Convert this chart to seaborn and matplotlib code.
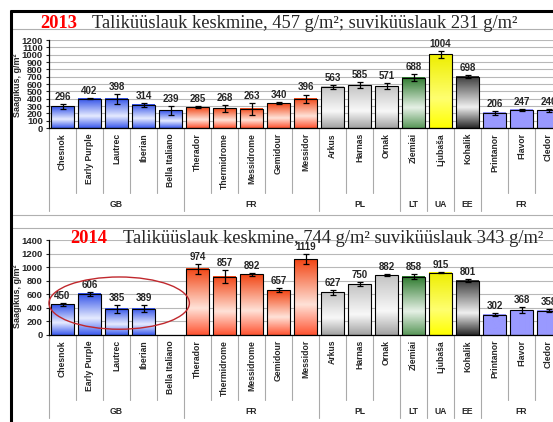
import numpy as np
import pandas as pd
import matplotlib
matplotlib.use("Agg")
import matplotlib.pyplot as plt
import seaborn as sns
from matplotlib.colors import LinearSegmentedColormap
from matplotlib.lines import Line2D
from matplotlib.patches import Ellipse
from matplotlib.transforms import blended_transform_factory

# Andmed
varieties = ["Chesnok", "Early Purple", "Lautrec", "Iberian", "Bella Italiano",
             "Therador", "Thermidrome", "Messidrome", "Gemidour", "Messidor",
             "Arkus", "Harnas", "Ornak", "Ziemiai", "Ljubaša", "Kohalik",
             "Printanor", "Flavor", "Cledor"]
countries = ["GB", "FR", "PL", "LT", "UA", "EE", "FR"]
group_sizes = [5, 5, 3, 1, 1, 1, 3]

yield_2013 = [296, 402, 398, 314, 239, 285, 268, 263, 340, 396,
              563, 585, 571, 688, 1004, 698, 206, 247, 240]
err_2013 = [35, 10, 68, 30, 60, 15, 45, 80, 15, 60,
            25, 45, 45, 50, 45, 20, 30, 10, 20]
yield_2014 = [450, 606, 385, 389, np.nan, 974, 857, 892, 657, 1119,
              627, 750, 882, 858, 915, 801, 302, 368, 358]
err_2014 = [20, 25, 55, 50, np.nan, 70, 95, 17, 30, 80,
            37, 30, 10, 40, 8, 25, 17, 45, 20]

# Tulpade gradient (ülemine, keskmine, alumine) riigirühmade kaupa
group_grad = [("#3050E8", "#E6EBFF", "#3D5CEE"),
              ("#F24514", "#FFE2D8", "#FF5533"),
              ("#C4C4C4", "#F8F8F8", "#A2A2A2"),
              ("#2E7A2E", "#E6F1E6", "#5A985A"),
              ("#EEEE00", "#FFFF70", "#FFFF00"),
              ("#3C3C3C", "#F0F0F0", "#2A2A2A"),
              ("#9999FF", "#9999FF", "#9999FF")]
bar_grad = [g for g, n in zip(group_grad, group_sizes) for _ in range(n)]

W, H = 553, 422


def fx(x):
    return x / W


def fy(y):
    return 1 - y / H


sns.set_style("ticks")
plt.rcParams["font.family"] = ["Liberation Sans", "DejaVu Sans"]

fig = plt.figure(figsize=(W / 100, H / 100), dpi=100)
n = len(varieties)
ax_left, ax_w = fx(49), (n * 27) / W


def draw_panel(ax, values, errors, ymax, step, lab_y, short_y, long_y, grp_y, axis_y):
    df = pd.DataFrame({"sort": varieties, "saak": values})
    sns.barplot(data=df, x="sort", y="saak", hue="sort", order=varieties,
                hue_order=varieties, palette=[g[0] for g in bar_grad],
                saturation=1, width=0.85, errorbar=None, legend=False, ax=ax)
    for p in list(ax.patches):
        h = p.get_height()
        if not np.isfinite(h) or h == 0:
            continue
        x0, w = p.get_x(), p.get_width()
        i = int(round(x0 + w / 2))
        top, mid, bot = bar_grad[i]
        cmap = LinearSegmentedColormap.from_list("g", [(0, bot), (0.4, mid), (1, top)])
        ax.imshow(np.linspace(0, 1, 100).reshape(-1, 1), extent=(x0, x0 + w, 0, h),
                  origin="lower", aspect="auto", cmap=cmap, zorder=1.5)
        p.set_facecolor("none")
        p.set_edgecolor("black")
        p.set_linewidth(0.8)
        p.set_zorder(2)

    x = np.arange(n)
    ax.errorbar(x, values, yerr=errors, fmt="none", ecolor="black",
                elinewidth=0.9, capsize=2, capthick=0.9, zorder=3)
    for i, (v, e) in enumerate(zip(values, errors)):
        if np.isfinite(v):
            ax.annotate(f"{v:.0f}", (i, v + e), xytext=(0, 1.5), textcoords="offset points",
                        ha="center", va="bottom", fontsize=7, fontweight="bold")

    ax.set_xlim(-0.5, n - 0.5)
    ax.set_ylim(0, ymax)
    ax.set_yticks(np.arange(0, ymax + 1, step))
    ax.tick_params(axis="y", labelsize=6.8, length=2.5, width=0.8, pad=2)
    for t in ax.get_yticklabels():
        t.set_fontweight("bold")
    ax.set_xticks([])
    ax.set_xlabel("")
    ax.set_ylabel("")
    ax.yaxis.grid(True, color="#B8B8B8", lw=0.8)
    ax.set_axisbelow(True)
    for s in ["top", "right"]:
        ax.spines[s].set_visible(False)
    for s in ["left", "bottom"]:
        ax.spines[s].set_color("black")
        ax.spines[s].set_linewidth(0.9)

    tr = blended_transform_factory(ax.transData, fig.transFigure)
    for i, name in enumerate(varieties):
        ax.text(i, fy(lab_y), name, rotation=90, ha="center", va="top",
                fontsize=6.2, fontweight="bold", transform=tr, clip_on=False)
    bounds = np.cumsum([0] + group_sizes) - 0.5
    for b in np.arange(n + 1) - 0.5:
        end = long_y if b in bounds else short_y
        ax.plot([b, b], [fy(axis_y), fy(end)], color="#AAAAAA", lw=0.8,
                transform=tr, clip_on=False)
    for c, a, z in zip(countries, bounds[:-1], bounds[1:]):
        ax.text((a + z) / 2, fy(grp_y), c, ha="center", va="center",
                fontsize=6.2, fontweight="bold", transform=tr, clip_on=False)


ax1 = fig.add_axes([ax_left, fy(128), ax_w, 88 / H])
draw_panel(ax1, yield_2013, err_2013, 1200, 100, 133, 193, 211, 205, 128)

ax2 = fig.add_axes([ax_left, fy(335), ax_w, 95 / H])
draw_panel(ax2, yield_2014, err_2014, 1400, 200, 340, 400, 418, 411, 335)
ax2.add_patch(Ellipse((2.1, 470), 5.2, 770, fill=False, edgecolor="#C0282D",
                      lw=1, clip_on=False, zorder=4))

# Pealkirjad
serif = ["Liberation Serif", "DejaVu Serif"]
fig.text(fx(40), fy(28), "2013", color="#FF0000", fontsize=13.3, fontweight="bold",
         family=serif, va="baseline")
fig.text(fx(92), fy(28), "Taliküüslauk keskmine, 457 g/m²; suviküüslauk 231 g/m²",
         fontsize=13.3, family=serif, va="baseline")
fig.text(fx(70), fy(243), "2014", color="#FF0000", fontsize=13.3, fontweight="bold",
         family=serif, va="baseline")
fig.text(fx(123), fy(243), "Taliküüslauk keskmine, 744 g/m² suviküüslauk 343 g/m²",
         fontsize=13.3, family=serif, va="baseline")

fig.text(fx(17), fy(85), "Saagikus, g/m²", rotation=90, ha="center", va="center",
         fontsize=6.5, fontweight="bold")
fig.text(fx(17), fy(296), "Saagikus, g/m²", rotation=90, ha="center", va="center",
         fontsize=6.5, fontweight="bold")

# Raam ja jooned
for y in [29, 215, 228]:
    fig.add_artist(Line2D([fx(12), 1], [fy(y), fy(y)], color="#B0B0B0", lw=0.8))
fig.add_artist(Line2D([fx(10), 1], [fy(11), fy(11)], color="black", lw=2.2,
                      solid_capstyle="butt"))
fig.add_artist(Line2D([fx(11), fx(11)], [fy(10), 0], color="black", lw=2.2,
                      solid_capstyle="butt"))

fig.savefig("out.png", dpi=100)
